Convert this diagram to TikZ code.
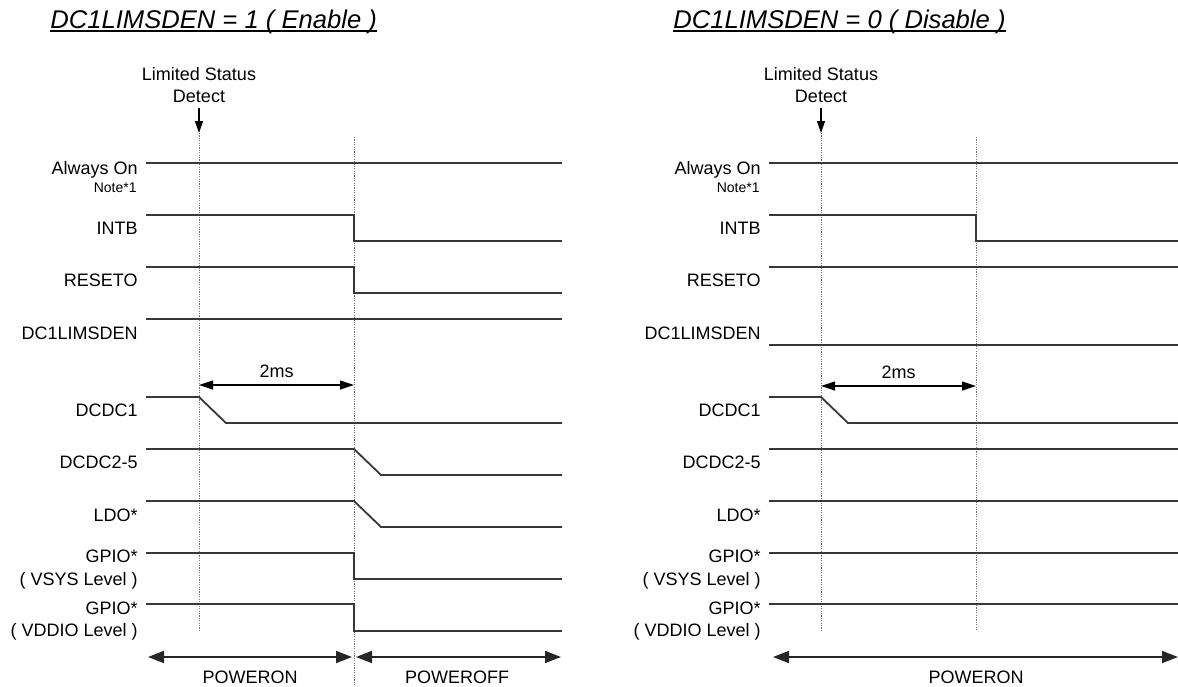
\documentclass[tikz,border=0pt]{standalone}
\usepackage{fontspec}
\setmainfont{Liberation Sans}
\usetikzlibrary{arrows.meta}

\begin{document}
\begin{tikzpicture}[x=0.5pt,y=-0.5pt,font=\fontsize{9}{11}\selectfont,
  sig/.style={line width=0.9pt,draw=black!78},
  guide/.style={draw=black!55,line width=0.45pt,dash pattern=on 0.6pt off 0.6pt},
  lbl/.style={anchor=base east,inner sep=0pt},
  txt/.style={anchor=base,inner sep=0pt},
  note/.style={anchor=base east,inner sep=0pt,font=\fontsize{7}{8}\selectfont},
  ttl/.style={anchor=base west,inner sep=0pt,font=\fontsize{12.8}{14}\selectfont\itshape},
  span/.style={line width=0.9pt,draw=black!85,{Triangle[length=8pt,width=6pt]}-{Triangle[length=8pt,width=6pt]}},
  dur/.style={line width=0.6pt,{Triangle[length=7pt,width=4.5pt]}-{Triangle[length=7pt,width=4.5pt]}},
  det/.style={line width=0.6pt,-{Triangle[length=6pt,width=4pt]}}]
\useasboundingbox (0,0) rectangle (1178,686);

% --- DC1LIMSDEN = 1 ---
\node[ttl](ttlA) at (50,28){DC1LIMSDEN = 1 ( Enable )};
\draw[line width=0.9pt] ([yshift=-1.6pt]ttlA.base west) -- ([yshift=-1.6pt]ttlA.base east);
\node[txt](lsdA) at (199,80){Limited Status};
\node[txt](detA) at (199,102){Detect};
\coordinate (evA) at (199,133); \coordinate (offA) at (354,137);
\draw[det] ([yshift=-2.5pt]detA.south) -- (evA);
\draw[guide] (evA) -- (199,631); \draw[guide] (offA) -- (354,686);
\node[lbl](aonA) at (138,174){Always On}; \node[note](notA) at (137,192){Note*1};
\node[lbl](intA) at (138,234){INTB};
\node[lbl](rstA) at (138,286){RESETO};
\node[lbl](limA) at (138,339){DC1LIMSDEN};
\node[lbl](dc1A) at (138,416){DCDC1};
\node[lbl](dc2A) at (138,468){DCDC2-5};
\node[lbl](ldoA) at (138,521){LDO*};
\node[lbl](gpsA) at (138,562){GPIO*}; \node[lbl] at (138,585){( VSYS Level )};
\node[lbl](gpdA) at (138,614){GPIO*}; \node[lbl] at (138,636){( VDDIO Level )};
\draw[sig] (146,163) -- (562,163);
\draw[sig] (146,215) -| (354,241) -- (562,241);
\draw[sig] (146,267) -| (354,293) -- (562,293);
\draw[sig] (146,319) -- (562,319);
\draw[dur] (evA |- 0,385) -- (offA |- 0,385) node[midway,above=3.5pt,inner sep=0pt]{2ms};
\draw[sig] (146,397) -- (199,397) -- (226,423) -- (562,423);
\draw[sig] (146,449) -- (354,449) -- (381,475) -- (562,475);
\draw[sig] (146,501) -- (354,501) -- (381,527) -- (562,527);
\draw[sig] (146,553) -| (354,579) -- (562,579);
\draw[sig] (146,604) -| (354,631) -- (562,631);
\draw[span] (148,657) -- (352,657); \draw[span] (356,657) -- (561,657);
\node[txt](ponA) at (250,683){POWERON}; \node[txt](pofA) at (457,683){POWEROFF};

% --- DC1LIMSDEN = 0 ---
\begin{scope}[shift={(622,0)}]
\node[ttl](ttlB) at (51,28){DC1LIMSDEN = 0 ( Disable )};
\draw[line width=0.9pt] ([yshift=-1.6pt]ttlB.base west) -- ([yshift=-1.6pt]ttlB.base east);
\node[txt](lsdB) at (199,80){Limited Status};
\node[txt](detB) at (199,102){Detect};
\coordinate (evB) at (199,133); \coordinate (intB) at (354,137);
\draw[det] ([yshift=-2.5pt]detB.south) -- (evB);
\draw[guide] (evB) -- (199,631); \draw[guide] (intB) -- (354,631);
\node[lbl](aonB) at (139,174){Always On}; \node[note](notB) at (138,192){Note*1};
\node[lbl](intlB) at (139,234){INTB};
\node[lbl](rstB) at (139,286){RESETO};
\node[lbl](limB) at (139,339){DC1LIMSDEN};
\node[lbl](dc1B) at (139,416){DCDC1};
\node[lbl](dc2B) at (139,468){DCDC2-5};
\node[lbl](ldoB) at (139,521){LDO*};
\node[lbl](gpsB) at (139,562){GPIO*}; \node[lbl] at (139,585){( VSYS Level )};
\node[lbl](gpdB) at (139,614){GPIO*}; \node[lbl] at (139,636){( VDDIO Level )};
\draw[sig] (147,163) -- (556,163);
\draw[sig] (147,215) -| (354,241) -- (556,241);
\draw[sig] (147,267) -- (556,267);
\draw[sig] (147,345) -- (556,345);
\draw[dur] (evB |- 0,386) -- (intB |- 0,386) node[midway,above=3.5pt,inner sep=0pt]{2ms};
\draw[sig] (147,397) -- (199,397) -- (226,423) -- (556,423);
\draw[sig] (147,449) -- (556,449);
\draw[sig] (147,501) -- (556,501);
\draw[sig] (147,553) -- (556,553);
\draw[sig] (147,604) -- (556,604);
\draw[span] (151,657) -- (556,657);
\node[txt](ponB) at (354,683){POWERON};
\end{scope}
\end{tikzpicture}
\end{document}
